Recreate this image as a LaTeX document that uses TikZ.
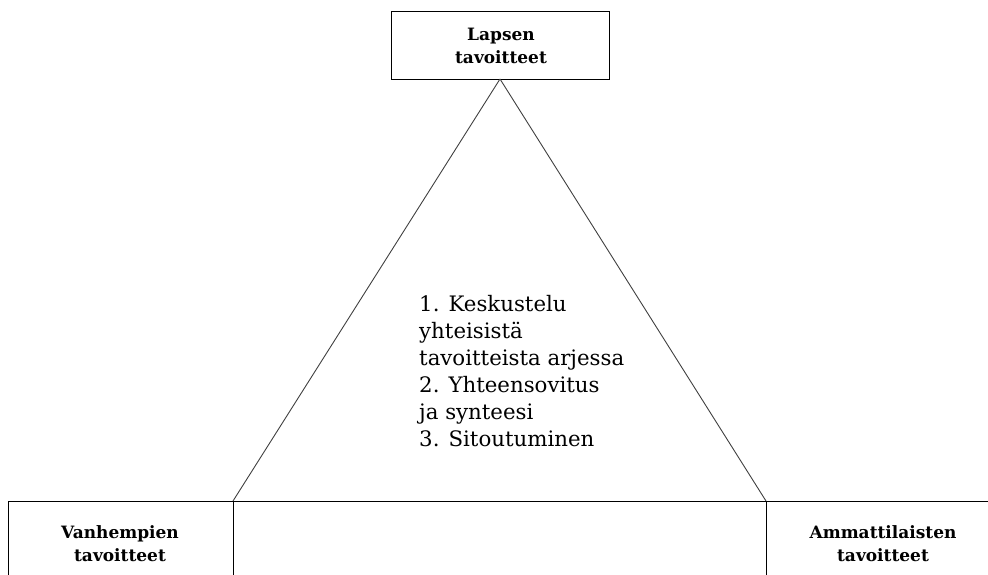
\documentclass[tikz,border=0pt]{standalone}
\usepackage{fontspec}
\setmainfont{DejaVu Serif}
\begin{document}
\begin{tikzpicture}[x=1pt,y=-1pt,
  frame/.style={draw=black,line width=0.9pt},
  side/.style={draw=black!75,line width=0.9pt},
  goal/.style={font=\fontsize{17}{23}\selectfont\bfseries,align=center,inner sep=0pt,anchor=base},
  steps/.style={font=\fontsize{21.3}{27}\selectfont,align=left,anchor=base west,inner sep=0pt}]
  \useasboundingbox (0,0) rectangle (988,575);
  \clip (0,0) rectangle (988,575);
  % top box
  \node[frame,minimum width=218pt,minimum height=68pt,inner sep=0pt] (child) at (500,45) {};
  \node[goal] (childtxt) at (501,63.5) {Lapsen\\tavoitteet};
  % triangle corners
  \coordinate (apex) at (500,79);
  \coordinate (bl) at (233,501);
  \coordinate (br) at (766,501);
  \draw[side] (apex) -- (bl);
  \draw[side] (apex) -- (br);
  % bottom row of cells
  \coordinate (rowl) at (8,501);
  \coordinate (rowr) at (988,501);
  \coordinate (bll) at (8,580);
  \coordinate (blm) at (233,580);
  \coordinate (brm) at (766,580);
  \draw[frame] (rowl) -- (rowr);
  \draw[frame] (rowl) -- (bll);
  \draw[frame] (bl) -- (blm);
  \draw[frame] (br) -- (brm);
  \node[goal] (parents) at (120,561) {Vanhempien\\tavoitteet};
  \node[goal] (pros) at (883,561) {Ammattilaisten\\tavoitteet};
  % process steps inside the triangle
  \node[steps] (process) at (419,446.7) {1. Keskustelu\\yhteisistä\\tavoitteista arjessa\\2. Yhteensovitus\\ja synteesi\\3. Sitoutuminen};
\end{tikzpicture}
\end{document}
